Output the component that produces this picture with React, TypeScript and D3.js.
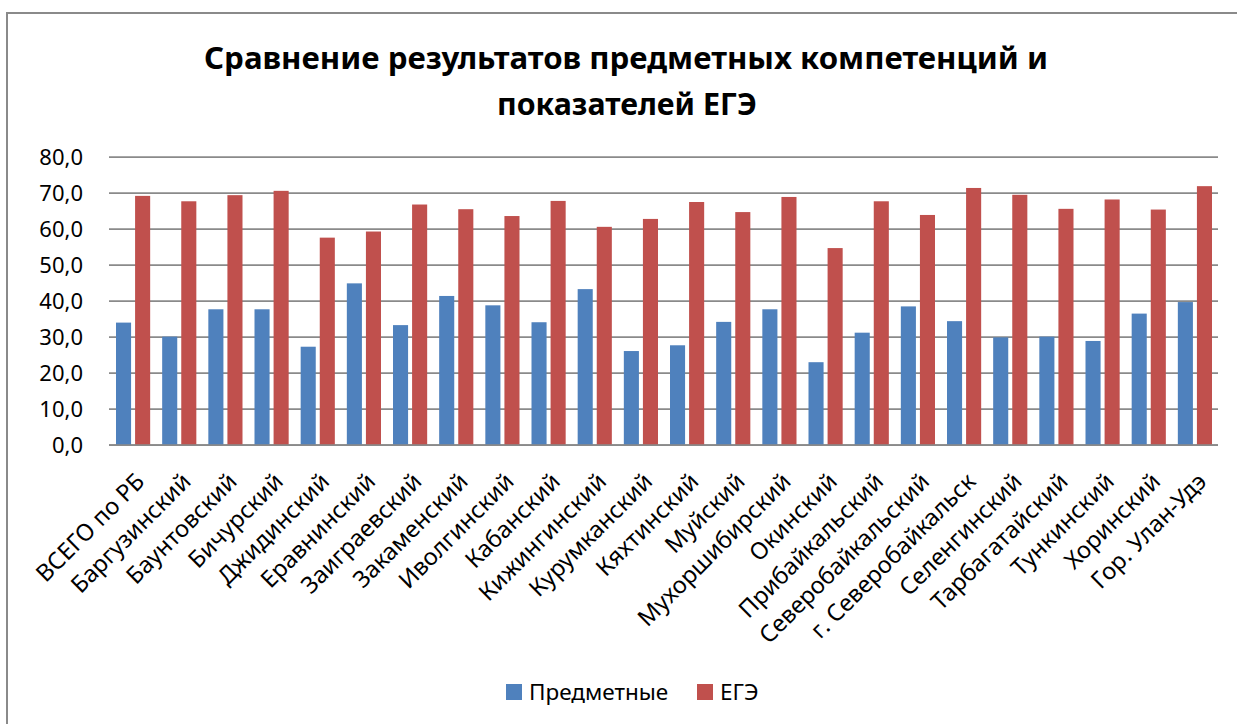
import React from "react";
import { scaleBand, scaleLinear, range } from "d3";

const categories = [
  "ВСЕГО по РБ",
  "Баргузинский",
  "Баунтовский",
  "Бичурский",
  "Джидинский",
  "Еравнинский",
  "Заиграевский",
  "Закаменский",
  "Иволгинский",
  "Кабанский",
  "Кижингинский",
  "Курумканский",
  "Кяхтинский",
  "Муйский",
  "Мухоршибирский",
  "Окинский",
  "Прибайкальский",
  "Северобайкальский",
  "г. Северобайкальск",
  "Селенгинский",
  "Тарбагатайский",
  "Тункинский",
  "Хоринский",
  "Гор. Улан-Удэ",
];

const predmetnye = [
  34.0, 30.1, 37.7, 37.7, 27.3, 44.9, 33.3, 41.4, 38.8, 34.1, 43.3, 26.1,
  27.7, 34.2, 37.7, 23.0, 31.2, 38.5, 34.4, 29.9, 30.1, 28.9, 36.5, 39.7,
];

const ege = [
  69.2, 67.7, 69.4, 70.6, 57.6, 59.3, 66.8, 65.5, 63.6, 67.8, 60.6, 62.8,
  67.5, 64.7, 68.9, 54.7, 67.7, 63.9, 71.4, 69.5, 65.6, 68.2, 65.4, 71.9,
];

const seriesNames = ["Предметные", "ЕГЭ"];
const seriesColors = ["#4F81BD", "#C0504D"];
const yTicks = range(0, 81, 10);

const W = 1237;
const H = 724;
const plot = { left: 110, right: 1218, top: 157, bottom: 445 };
const font = "'Noto Sans', 'DejaVu Sans', sans-serif";

export default function App() {
  const x = scaleBand<string>()
    .domain(categories)
    .range([plot.left, plot.right]);
  const xs = scaleBand<string>()
    .domain(seriesNames)
    .range([6, x.bandwidth() - 6])
    .paddingInner(0.21);
  const y = scaleLinear().domain([0, 80]).range([plot.bottom, plot.top]);

  const series = [predmetnye, ege];
  const legendX = [506, 697];

  return (
    <svg
      width={W}
      height={H}
      style={{ position: "absolute", left: 0, top: 0, display: "block" }}
      fontFamily={font}
    >
      <rect x={0} y={0} width={W} height={H} fill="#fff" />
      <rect
        x={7}
        y={13}
        width={1400}
        height={900}
        fill="none"
        stroke="#8a8a8a"
        strokeWidth={2}
      />

      <text
        x={626}
        y={69}
        textAnchor="middle"
        fontSize={30}
        fontWeight="bold"
        textLength={844}
        lengthAdjust="spacingAndGlyphs"
      >
        Сравнение результатов предметных компетенций и
      </text>
      <text
        x={627}
        y={115}
        textAnchor="middle"
        fontSize={30}
        fontWeight="bold"
        textLength={260}
        lengthAdjust="spacingAndGlyphs"
      >
        показателей ЕГЭ
      </text>

      {yTicks.map((t) => (
        <g key={t}>
          <line
            x1={plot.left - 1}
            x2={plot.right}
            y1={y(t)}
            y2={y(t)}
            stroke="#8a8a8a"
            strokeWidth={1.75}
          />
          <text
            x={83}
            y={y(t)}
            dy="0.35em"
            textAnchor="end"
            fontSize={22}
            fill="#000"
          >
            {t.toFixed(1).replace(".", ",")}
          </text>
        </g>
      ))}

      {categories.map((c, i) => (
        <g key={c}>
          {series.map((vals, s) => (
            <rect
              key={s}
              x={(x(c) as number) + (xs(seriesNames[s]) as number)}
              y={y(vals[i])}
              width={xs.bandwidth()}
              height={plot.bottom - y(vals[i])}
              fill={seriesColors[s]}
            />
          ))}
        </g>
      ))}

      <line
        x1={plot.left - 1}
        x2={plot.right}
        y1={plot.bottom}
        y2={plot.bottom}
        stroke="#8a8a8a"
        strokeWidth={1.75}
      />

      {categories.map((c) => {
        const cx = (x(c) as number) + x.bandwidth() / 2 + 13;
        const cy = plot.bottom + 38;
        return (
          <text
            key={c}
            x={cx}
            y={cy}
            textAnchor="end"
            fontSize={23.5}
            fill="#000"
            transform={`rotate(-45 ${cx} ${cy})`}
          >
            {c}
          </text>
        );
      })}

      {seriesNames.map((n, s) => (
        <g key={n}>
          <rect
            x={legendX[s]}
            y={684}
            width={16}
            height={16}
            fill={seriesColors[s]}
          />
          <text x={legendX[s] + 23} y={692} dy="0.35em" fontSize={22.5}>
            {n}
          </text>
        </g>
      ))}
    </svg>
  );
}
